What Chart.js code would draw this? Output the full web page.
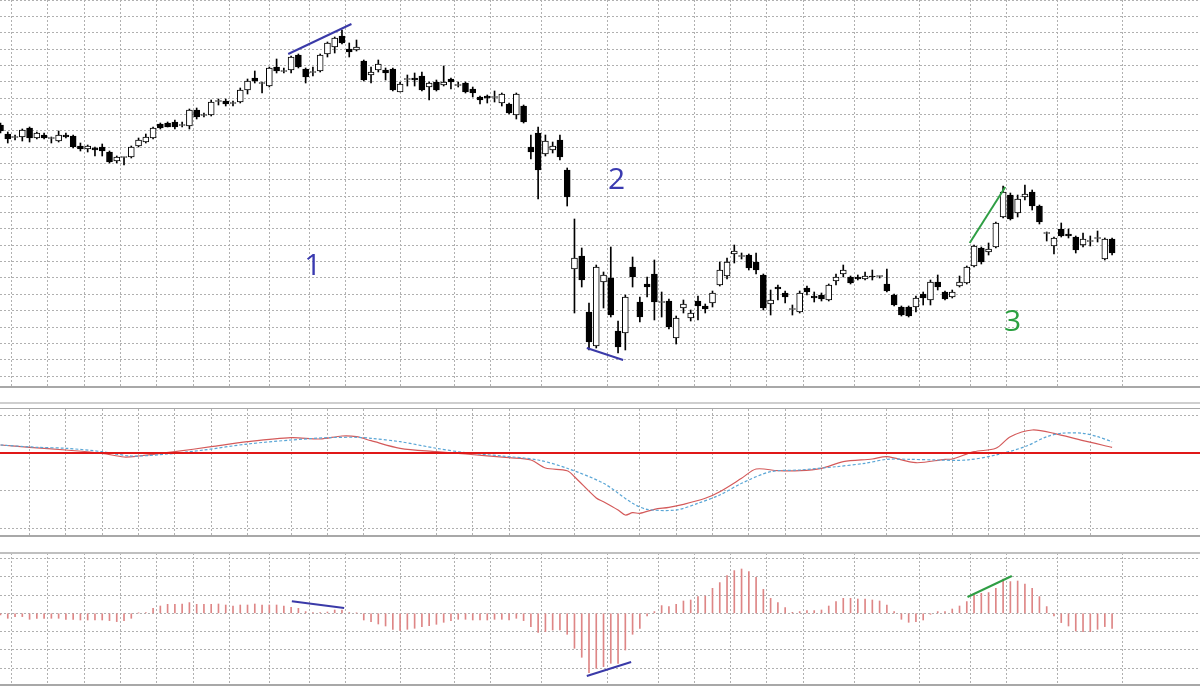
<!DOCTYPE html>
<html>
<head>
<meta charset="utf-8">
<script src="https://cdn.jsdelivr.net/npm/chart.js@4/dist/chart.umd.min.js"></script>
<style>
body { margin: 0; background: #fff; width: 1200px; height: 697px; position: relative; overflow: hidden; }
canvas { position: absolute; left: 0; }
.sep { position: absolute; left: 0; width: 1200px; }
</style>
</head>
<body>
<canvas id="price" width="1200" height="387" style="top:0"></canvas>
<canvas id="macd" width="1200" height="127" style="top:409px"></canvas>
<canvas id="hist" width="1200" height="132" style="top:553px"></canvas>
<div class="sep" style="top:386px;height:2px;background:#a8a8a8"></div>
<div class="sep" style="top:402px;height:2px;background:#cfcfcf"></div>
<div class="sep" style="top:408px;height:1px;background:#a8a8a8"></div>
<div class="sep" style="top:535px;height:2px;background:#a8a8a8"></div>
<div class="sep" style="top:552px;height:2px;background:#c0c0c0"></div>
<div class="sep" style="top:684px;height:2px;background:#a8a8a8"></div>
<script>
// price bars, one per period (k = 0..153)
var opens = [275,266,263,263,272,262,265,262,259,265, 264,254,251,252,253,248,239,243,243,254,
  258,262,276,277,278,275,274,290,285,285, 299,299,297,298,310,322,317,314,333,329,
  330,345,331,328,329,346,353,364,351,350, 339,325,330,330,331,308,321,322,324,313,
  318,315,321,315,317,311,303,304,303,297, 296,285,294,253,267,246,250,260,230,131,
  144,88,54,118,122,69,67,133,98,116, 126,98,99,62,92,82,99,94,97,115,
  124,146,144,145,138,125,96,113,107,91, 88,112,104,105,100,119,126,123,123,121,
  124,124,116,105,93,93,93,106,100,118, 108,103,114,117,134,152,148,153,183,205,
  187,203,208,194,167,154,171,166,163,155, 159,162,141,161];
var highs = [277,268,265,271,273,268,267,263,269,267, 265,257,255,253,256,249,244,243,254,262,
  266,273,277,278,280,278,291,292,287,300, 301,301,299,312,321,329,318,333,341,332,
  344,346,332,333,346,358,363,370,357,360, 340,333,340,332,332,318,325,327,328,318,
  320,334,322,318,318,313,304,305,309,307, 297,307,295,265,273,265,258,265,232,181,
  152,97,135,128,153,79,105,143,103,123, 140,108,101,84,100,90,104,96,109,138,
  142,155,147,146,147,126,110,115,109,95, 109,114,108,107,116,126,135,124,125,128,
  130,124,131,106,94,94,104,108,120,125, 109,110,124,134,155,153,157,178,214,207,
  205,215,210,195,168,163,177,171,164,167, 164,169,162,162];
var lows = [267,257,260,259,258,261,261,257,258,262, 252,249,248,244,244,237,237,235,242,253,
  257,261,271,273,271,273,271,281,283,284, 295,294,294,297,306,317,307,313,327,327,
  327,332,317,324,328,343,347,356,343,349, 319,317,328,320,309,308,314,314,309,300,
  309,314,311,313,307,303,296,297,298,294, 286,281,277,241,201,244,247,240,194,87,
  113,50,52,92,83,47,50,113,78,103, 80,83,71,56,87,79,80,87,93,114,
  121,137,141,130,126,90,85,100,97,85, 87,105,98,99,99,115,123,116,120,120,
  120,122,108,94,84,83,88,95,95,110, 100,102,113,116,133,136,145,152,182,180,
  183,200,190,176,159,146,163,162,147,153, 154,158,140,145];
var closes = [269,261,263,270,262,267,262,262,265,263, 253,251,254,250,249,238,243,243,253,260,
  263,272,272,273,273,275,290,283,285,298, 299,296,297,310,319,319,317,332,329,329,
  343,333,323,328,345,357,362,357,348,353, 320,328,336,327,310,316,321,320,310,317,
  310,318,318,315,308,307,300,302,303,306, 287,306,278,248,230,259,254,243,203,142,
  120,58,133,125,85,53,103,123,83,113, 98,98,73,82,96,87,94,91,107,130,
  138,149,144,132,130,92,100,111,103,91, 107,108,102,101,115,123,130,117,121,124,
  123,124,109,95,85,84,102,102,118,113, 101,108,118,133,154,138,151,177,208,181,
  201,206,194,178,167,162,164,164,150,161, 159,162,161,147];

// MACD main line and signal line, [period, value]
var macdLine = [[0,8],[4,5.7],[9,3],[14,-0.3],[17,-4],[19,-3],[24,1.3],[29,6.3],[34,11.3],[40,15.3],
  [44,14],[47,17],[49,16.3],[51,12.3],[55,4.7],[60,1.3],[64,-1],[70,-4.7],[73,-7],[75,-15],
  [78,-17.7],[79,-23.7],[82,-45],[83,-48.7],[85,-57],[86,-62],[87,-59.7],[88,-60.3],[90,-56.3],[92,-54.3],
  [94,-51.3],[97,-45.3],[99,-38.7],[102,-25.3],[104,-16],[107,-17.7],[110,-17.7],[113,-15.3],[116,-8.7],[120,-6],
  [122,-3.7],[126,-9.7],[130,-6.3],[131,-6],[134,1.3],[137,4.7],[139,16.3],[142,23],[145,19.7],[149,12.3],[153,5.7]];
var signalLine = [[0,8],[5,5.7],[9,4.7],[14,1.3],[18,-3],[23,-1],[28,3],[34,9],[40,13],[45,15.3],
  [49,15.7],[51,14.7],[55,11.3],[60,4.7],[64,0.3],[69,-3],[74,-7],[78,-15.3],[83,-30.3],[87,-50.3],
  [89,-56.3],[93,-57],[96,-50.3],[99,-42],[102,-30.3],[106,-18.7],[110,-17],[115,-13.7],[119,-10.3],[122,-6.3],
  [125,-6.3],[129,-7],[133,-7],[137,-2],[141,6.3],[144,16.3],[146,19.7],[149,19.7],[151,16.3],[153,11.3]];

// histogram, one per period
var histValues = [-1.7,-5,-3.3,-3.3,-6,-5,-5,-5,-5,-6, -6,-6.7,-6.7,-6.7,-6.7,-7.3,-8.3,-7.3,-5,0.3,
  0.7,5,7.3,9,9,9.3,10.7,9,9,9, 9.3,8.3,7.3,8.3,8.3,9.3,8.3,8.3,8.3,7.3,
  6,5,1.7,0.7,0.7,1.3,3.3,3.3,0.7,0.3, -6.7,-8.3,-10.7,-12.7,-16,-17,-16,-15,-13.3,-12.3,
  -11,-9,-7.3,-6,-6,-6.7,-6.7,-6.7,-6,-6, -6.7,-5,-7.3,-13.3,-19,-18.3,-16.7,-16.7,-21,-35,
  -44,-59.3,-55,-53.3,-50,-50,-36.7,-21,-15,-2.7, 1.7,7.7,6.7,9,12.3,13.3,16.7,17.3,25,30.7,
  37.7,42.7,44.3,41.7,36,24,15,10.7,5.7,1, 1.7,2.7,2.7,3.3,7.3,11.7,15,15,14.3,14.3,
  13.3,12.3,8.3,1.7,-6,-9,-8.3,-6.7,-1,1.7, 1.7,4.3,7.3,11.7,18.3,20,20.7,25,34.3,31.7,
  32.3,29.3,25,16.7,6.7,-2.7,-9.3,-12.7,-17.7,-18.3, -18.3,-16,-13.3,-15];

// hand-drawn trend lines and labels
var priceTrends = [
  {pts: [[39.6,346],[48.3,376]], color: '#3a3aa8'},
  {pts: [[80.7,52],[85.7,40]], color: '#3a3aa8'},
  {pts: [[133.4,157],[138.3,213]], color: '#2f9e44'}
];
var histTrends = [
  {pts: [[40.1,12],[47.3,5.3]], color: '#3a3aa8'},
  {pts: [[80.7,-62.7],[86.8,-48.7]], color: '#3a3aa8'},
  {pts: [[133.1,16.3],[139.2,37.3]], color: '#2f9e44'}
];
var labels = [
  {text: '1', at: [43, 134], color: '#3a3ab0'},
  {text: '2', at: [84.8, 220], color: '#3a3ab0'},
  {text: '3', at: [139.3, 78], color: '#2aa040'}
];

var gridDays = [4,9,14,19,24,29,34,40,45,50,60,65,70,79,88,93,98,103,108,113,122,131,136,141,150];
var xMin = -0.07, xMax = 165.1;
var gridColor = '#b0b0b0';

function xScale() {
  return {
    type: 'linear', min: xMin, max: xMax, offset: false,
    afterBuildTicks: function (s) { s.ticks = gridDays.map(function (v) { return {value: v}; }); },
    ticks: {display: false},
    grid: {color: gridColor, drawTicks: false, lineWidth: 1},
    border: {display: false, dash: [2, 2]}
  };
}
// grid lines every `step` on both sides of `base`
function yScale(min, max, base, step) {
  return {
    min: min, max: max,
    afterBuildTicks: function (s) {
      var t = [{value: base}];
      for (var i = 1; i < 100; i++) {
        var up = base + i * step, dn = base - i * step;
        if (up < max - 0.5) t.push({value: up});
        if (dn > min + 0.5) t.push({value: dn});
      }
      s.ticks = t;
    },
    ticks: {display: false},
    grid: {color: gridColor, drawTicks: false, lineWidth: 1},
    border: {display: false, dash: [2, 2]}
  };
}
function trendSets(list) {
  return list.map(function (t) {
    return {type: 'line', data: t.pts.map(function (p) { return {x: p[0], y: p[1]}; }),
      borderColor: t.color, borderWidth: 2, pointRadius: 0, order: 0};
  });
}
var common = {
  responsive: false, animation: false,
  layout: {padding: 0},
  plugins: {legend: {display: false}, tooltip: {enabled: false}}
};

var labelPlugin = {
  id: 'labels',
  afterDatasetsDraw: function (chart) {
    var ctx = chart.ctx, xs = chart.scales.x, ys = chart.scales.y;
    ctx.save();
    ctx.font = '30px "Open Sans", "Liberation Sans", sans-serif';
    ctx.textAlign = 'center'; ctx.textBaseline = 'middle';
    labels.forEach(function (l) {
      ctx.fillStyle = l.color;
      ctx.fillText(l.text, xs.getPixelForValue(l.at[0]), ys.getPixelForValue(l.at[1]));
    });
    ctx.restore();
  }
};

var wicks = [], bodies = [];
for (var k = 0; k < opens.length; k++) {
  wicks.push({x: k, y: [lows[k], highs[k]]});
  var lo = Math.min(opens[k], closes[k]), hi = Math.max(opens[k], closes[k]);
  if (hi - lo < 1) { lo -= 0.5; hi += 0.5; }
  bodies.push({x: k, y: [lo, hi], up: closes[k] >= opens[k]});
}

new Chart(document.getElementById('price').getContext('2d'), {
  type: 'bar',
  data: {datasets: [
    {data: wicks, backgroundColor: '#000', barThickness: 1, grouped: false, order: 2},
    {data: bodies, grouped: false, order: 1, barThickness: 6, borderSkipped: false, borderWidth: 1,
      borderColor: '#000',
      backgroundColor: function (c) { return c.raw && c.raw.up ? '#fff' : '#000'; }}
  ].concat(trendSets(priceTrends))},
  options: Object.assign({}, common, {scales: {x: xScale(), y: yScale(13, 400, 400, 16.35)}}),
  plugins: [labelPlugin]
});

new Chart(document.getElementById('macd').getContext('2d'), {
  type: 'line',
  data: {datasets: [
    {data: [{x: xMin, y: 0}, {x: xMax, y: 0}], borderColor: '#e01818', borderWidth: 2, pointRadius: 0},
    {data: signalLine.map(function (p) { return {x: p[0], y: p[1]}; }), borderColor: '#5aa6d6',
      borderWidth: 1.2, borderDash: [3, 2], pointRadius: 0, tension: 0.3},
    {data: macdLine.map(function (p) { return {x: p[0], y: p[1]}; }), borderColor: '#d45a5a',
      borderWidth: 1.2, pointRadius: 0, tension: 0.3}
  ]},
  options: Object.assign({}, common, {scales: {x: xScale(), y: yScale(-83, 44, 0, 37.5)}})
});

new Chart(document.getElementById('hist').getContext('2d'), {
  type: 'bar',
  data: {datasets: [
    {data: histValues.map(function (v, i) { return {x: i, y: v}; }), backgroundColor: '#de8686',
      barThickness: 1, grouped: false, order: 1}
  ].concat(trendSets(histTrends))},
  options: Object.assign({}, common, {scales: {x: xScale(), y: yScale(-71.7, 60.3, 0, 18.3)}})
});
</script>
</body>
</html>
